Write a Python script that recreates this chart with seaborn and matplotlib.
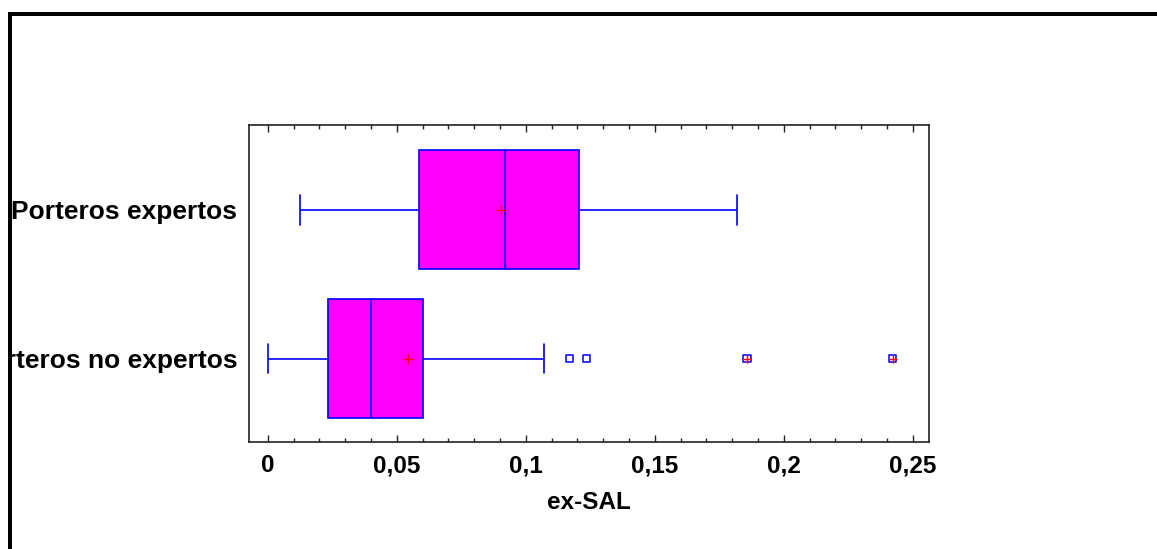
import numpy as np
import pandas as pd
import matplotlib
matplotlib.use("Agg")
import matplotlib.pyplot as plt
from matplotlib.patches import Rectangle
from matplotlib.ticker import MultipleLocator
import seaborn as sns

# grupos y resumen de cinco números
groups = ["Porteros expertos", "Porteros no expertos"]
whisker_lo = [0.0125, 0.0]
q1 = [0.0588, 0.0233]
median = [0.0921, 0.0399]
q3 = [0.1208, 0.0601]
whisker_hi = [0.1817, 0.1070]
means = [0.0903, 0.0543]

# valores atípicos (solo porteros no expertos)
outlier_x = [0.1169, 0.1235, 0.1857, 0.2422]
outlier_group = ["Porteros no expertos"] * 4
outlier_far = [False, False, True, True]

tick_values = [0, 0.05, 0.1, 0.15, 0.2, 0.25]
tick_labels = ["0", "0,05", "0,1", "0,15", "0,2", "0,25"]

# tabla larga para seaborn
rows = []
for i, g in enumerate(groups):
    for v in [whisker_lo[i], q1[i], median[i], q3[i], whisker_hi[i]]:
        rows.append({"grupo": g, "ex-SAL": v})
box_df = pd.DataFrame(rows)

out_df = pd.DataFrame({
    "x": outlier_x,
    "pos": [groups.index(g) for g in outlier_group],
    "far": outlier_far,
})
mean_df = pd.DataFrame({"x": means, "pos": range(len(groups))})

sns.set_style("white")
plt.rcParams["font.family"] = ["Liberation Sans", "DejaVu Sans"]
plt.rcParams["font.weight"] = "bold"
plt.rcParams["text.color"] = "black"
plt.rcParams["axes.labelcolor"] = "black"
plt.rcParams["xtick.color"] = "black"
plt.rcParams["ytick.color"] = "black"

fig = plt.figure(figsize=(11.57, 5.49), dpi=100)
ax = fig.add_axes([249 / 1157, 107 / 549, 680 / 1157, 317 / 549])

sns.boxplot(
    data=box_df,
    x="ex-SAL",
    y="grupo",
    order=groups,
    whis=1.5,
    width=0.8,
    color="#FF00FF",
    saturation=1,
    linecolor="#0000FF",
    linewidth=1.2,
    showfliers=False,
    capwidths=0.2,
    ax=ax,
)

# atípicos: cuadrados azules huecos
sns.scatterplot(
    data=out_df, x="x", y="pos", marker="s", s=28,
    facecolor="none", edgecolor="#0000FF", linewidth=1.1,
    ax=ax, legend=False, zorder=5,
)
# atípicos lejanos llevan una cruz roja
sns.scatterplot(
    data=out_df[out_df["far"]], x="x", y="pos", marker="+", s=40,
    color="#FF0000", linewidth=1.0, ax=ax, legend=False, zorder=6,
)
# medias
sns.scatterplot(
    data=mean_df, x="x", y="pos", marker="+", s=60,
    color="#FF0000", linewidth=1.0, ax=ax, legend=False, zorder=6,
)

ax.set_xlim(-0.00725, 0.2563)
ax.set_ylim(1.56, -0.568)
ax.set_xticks(tick_values)
ax.set_xticklabels(tick_labels)
ax.xaxis.set_minor_locator(MultipleLocator(0.01))
ax.set_yticks(range(len(groups)))
ax.set_yticklabels(groups)

ax.tick_params(axis="x", which="both", direction="in", top=True, bottom=True,
               labelsize=17.5, pad=9, width=1, color="#222222")
ax.tick_params(axis="x", which="major", length=5)
ax.tick_params(axis="x", which="minor", length=3)
ax.tick_params(axis="y", length=0, labelsize=19, pad=8.5)

for sp in ax.spines.values():
    sp.set_visible(True)
    sp.set_color("#222222")
    sp.set_linewidth(1.2)

ax.set_xlabel("ex-SAL", fontsize=17.5, fontweight="bold", labelpad=10)
ax.set_ylabel("")

# marco del lienzo: blanco por fuera, línea negra gruesa arriba y a la izquierda
W, H = 1157, 549
fig.add_artist(Rectangle((0, 0), 8 / W, 1, transform=fig.transFigure,
                         facecolor="white", edgecolor="none", zorder=10))
fig.add_artist(Rectangle((0, 1 - 12 / H), 1, 12 / H, transform=fig.transFigure,
                         facecolor="white", edgecolor="none", zorder=10))
fig.add_artist(Rectangle((8 / W, 0), 4 / W, 1 - 12 / H, transform=fig.transFigure,
                         facecolor="black", edgecolor="none", zorder=11))
fig.add_artist(Rectangle((8 / W, 1 - 16 / H), 1, 4 / H, transform=fig.transFigure,
                         facecolor="black", edgecolor="none", zorder=11))

plt.savefig("out.png", dpi=100)
